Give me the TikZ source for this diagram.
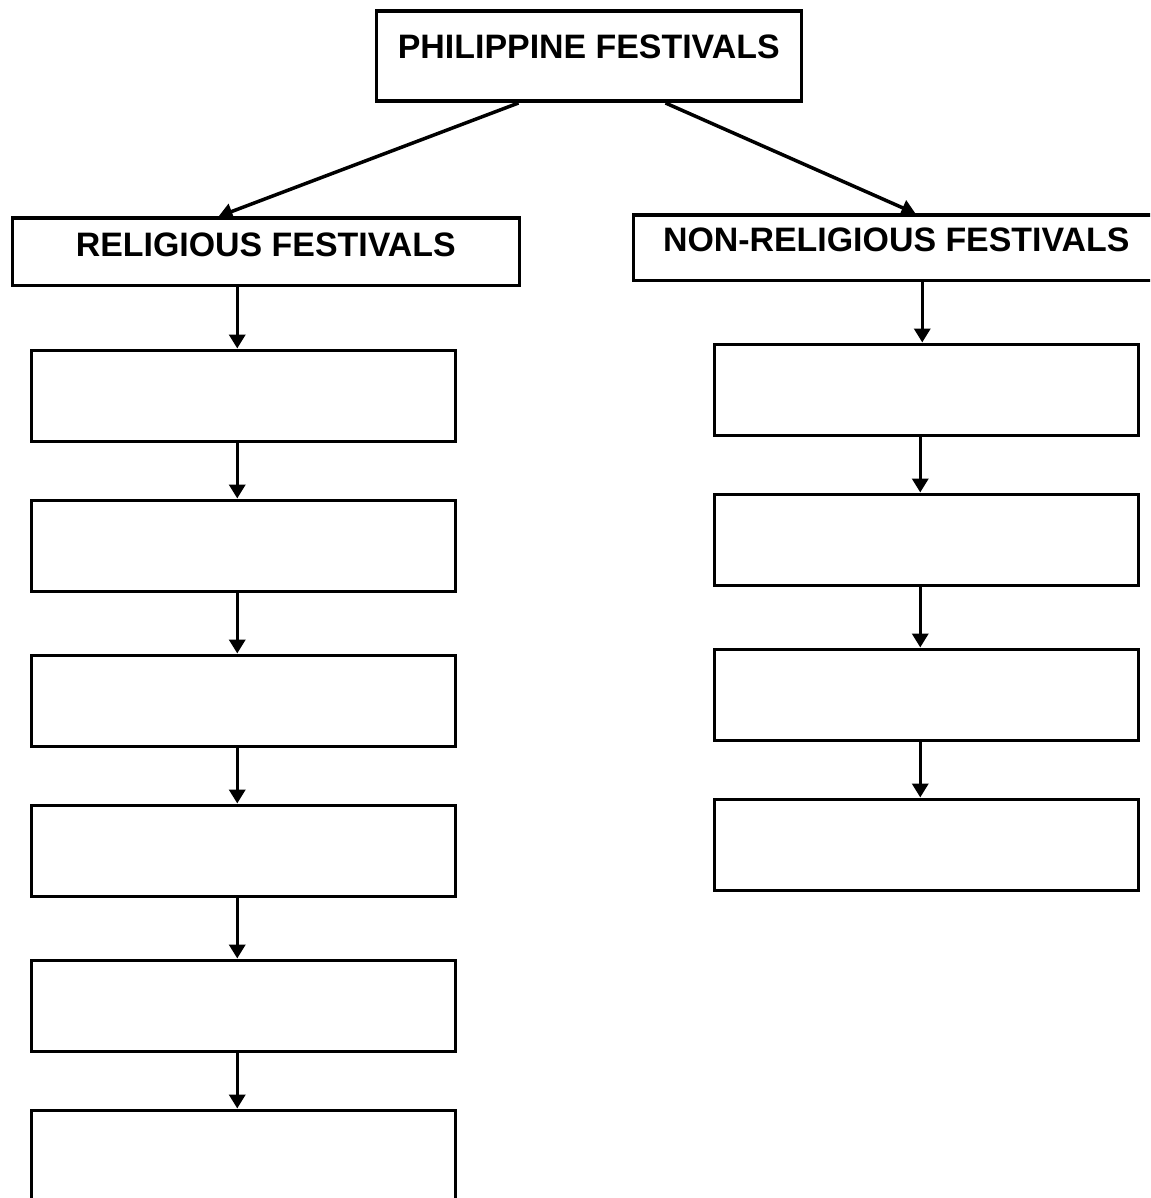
\documentclass[tikz,border=0pt]{standalone}
\usepackage{fontspec}
\setmainfont{Liberation Sans}
\usetikzlibrary{arrows.meta}
\begin{document}
\begin{tikzpicture}[x=1pt,y=-1pt,
  box/.style={draw=black,line width=3.5pt,fill=white,inner sep=0pt,anchor=north west,
    font=\fontsize{33.9}{40}\selectfont\bfseries},
  emptybox/.style={draw=black,line width=3.5pt,fill=white,inner sep=0pt,anchor=north west,
    minimum width=424pt,minimum height=91pt},
  arr/.style={draw=black,line width=3.5pt,-{Triangle[length=14pt,width=16pt]}}]
\useasboundingbox (0,0) rectangle (1150,1198);
\clip (0,0) rectangle (1150,1198);
\fill[white] (0,0) rectangle (1150,1198);

\node[box,minimum width=425pt,text height=47pt,text depth=43pt] (top) at (374.5,9.5) {PHILIPPINE FESTIVALS};
\node[box,minimum width=507pt,text height=38pt,text depth=29pt] (rel) at (10.5,216.5) {RELIGIOUS FESTIVALS};
\node[box,minimum width=526pt,text height=36pt,text depth=29pt] (non) at (631.5,213.5) {NON-RELIGIOUS FESTIVALS};

\node[emptybox] (l1) at (29.5,348.5) {};
\node[emptybox] (l2) at (29.5,498.5) {};
\node[emptybox] (l3) at (29.5,653.5) {};
\node[emptybox] (l4) at (29.5,803.5) {};
\node[emptybox] (l5) at (29.5,958.5) {};
\node[emptybox] (l6) at (29.5,1108.5) {};

\node[emptybox] (r1) at (712.5,342.5) {};
\node[emptybox] (r2) at (712.5,492.5) {};
\node[emptybox] (r3) at (712.5,647.5) {};
\node[emptybox] (r4) at (712.5,797.5) {};

\draw[arr] ([xshift=144pt]top.south west) -- ([xshift=208pt]rel.north west);
\draw[arr] ([xshift=291pt]top.south west) -- ([xshift=284pt]non.north west);

\draw[arr] ([xshift=-6pt]l1.north |- rel.south) -- ([xshift=-6pt]l1.north);
\draw[arr] ([xshift=-6pt]l1.south) -- ([xshift=-6pt]l2.north);
\draw[arr] ([xshift=-6pt]l2.south) -- ([xshift=-6pt]l3.north);
\draw[arr] ([xshift=-6pt]l3.south) -- ([xshift=-6pt]l4.north);
\draw[arr] ([xshift=-6pt]l4.south) -- ([xshift=-6pt]l5.north);
\draw[arr] ([xshift=-6pt]l5.south) -- ([xshift=-6pt]l6.north);

\draw[arr] ([xshift=-4pt]r1.north |- non.south) -- ([xshift=-4pt]r1.north);
\draw[arr] ([xshift=-6pt]r1.south) -- ([xshift=-6pt]r2.north);
\draw[arr] ([xshift=-6pt]r2.south) -- ([xshift=-6pt]r3.north);
\draw[arr] ([xshift=-6pt]r3.south) -- ([xshift=-6pt]r4.north);
\end{tikzpicture}
\end{document}
